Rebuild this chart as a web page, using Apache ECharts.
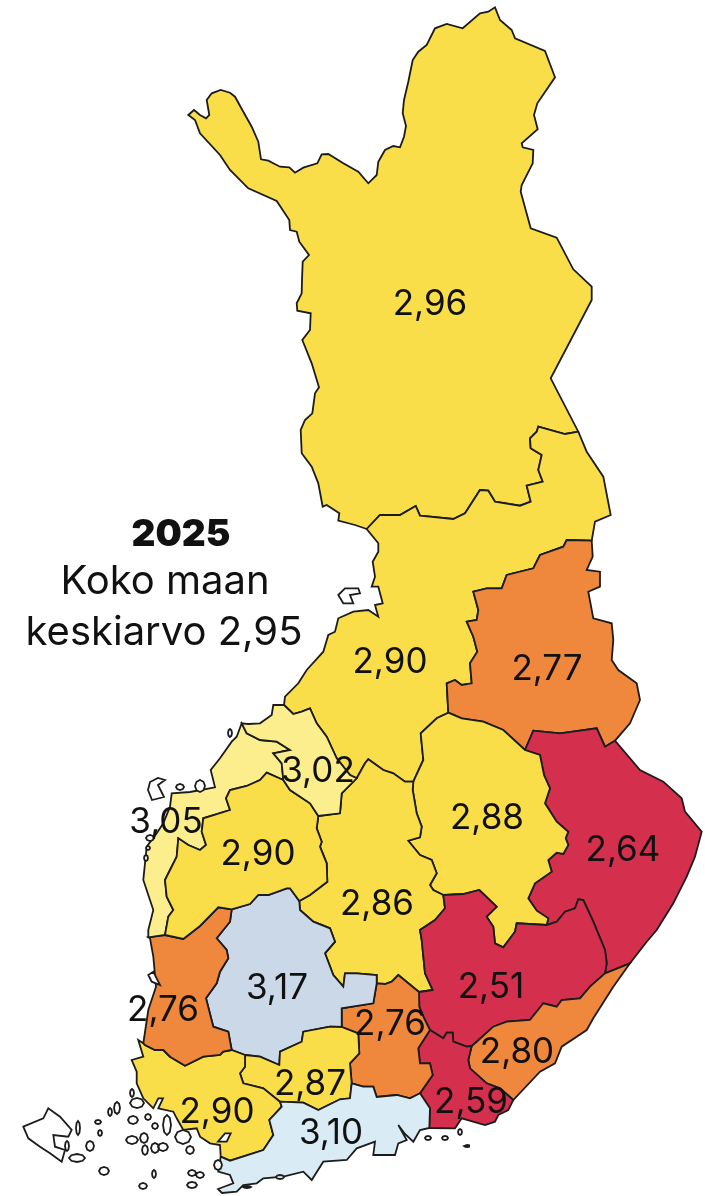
<!DOCTYPE html>
<html>
<head>
<meta charset="utf-8">
<title>Koko maan keskiarvo 2025</title>
<style>
	html,body{margin:0;padding:0;background:#fff;}
	#kartta{width:705px;height:1196px;}
</style>
<script src="https://cdn.jsdelivr.net/npm/echarts@6/dist/echarts.min.js"></script>
</head>
<body>
<div id="kartta"></div>
<script>
// maakunnat ja arvot
var regionNames = ["Lappi","Pohjois-Pohjanmaa","Kainuu","Pohjois-Karjala","Pohjois-Savo","Keski-Suomi","Etelä-Savo","Etelä-Karjala","Kymenlaakso","Päijät-Häme","Pirkanmaa","Kanta-Häme","Varsinais-Suomi","Uusimaa","Satakunta","Pohjanmaa","Etelä-Pohjanmaa","Keski-Pohjanmaa"];
var regionValues = [2.96,2.90,2.77,2.64,2.88,2.86,2.51,2.80,2.59,2.76,3.17,2.87,2.90,3.10,2.76,3.05,2.90,3.02];
var labelSpots = [[430,304],[390,662],[547,669],[623,850],[487,818],[377,904],[491,987],[517,1052],[471,1102],[390,1024],[277,988],[310,1084],[217,1112],[331,1133],[163,1010],[166,822],[258,854],[318,771]];
var colourSteps = [
	{lt:2.7,color:'#d42f4d'},
	{gte:2.7,lt:2.85,color:'#ef873c'},
	{gte:2.85,lt:3.0,color:'#f9dd49'},
	{gte:3.0,lt:3.1,color:'#fdee8d'},
	{gte:3.1,lt:3.15,color:'#d9ecf5'},
	{gte:3.15,color:'#cbd8e8'}
];

// rajat, jaetut osuudet
var lappiCoast = [[366.7,529],[355,525],[338.3,520.7],[339.3,513.3],[326.7,505],[322.7,506.7],[318.3,483.3],[311.7,466.7],[301.7,453.3],[300.7,430],[305,420],[312.3,413.3],[315,393.3],[319,387.3],[311.7,363.3],[302.3,340],[310,330],[310.7,313.3],[297.3,310.7],[296.7,303.3],[301.7,293.3],[302,280],[302.7,261.7],[309,255],[299.3,241.7],[296.7,231.7],[290,230],[289.3,220],[276.7,201],[248.3,188.3],[230,170],[220,155],[200,133.3],[195,120],[188.3,115],[194,110],[200,115],[206,118.3],[209.3,115],[206.7,100],[211.7,93.3],[220.7,90],[230,92.7],[235,96.7],[243.3,111.7],[251.7,126.7],[258.3,141.7],[261,159.3],[268.3,160.7],[280,166.7],[289.3,167.3],[295,172.7],[303.3,167.7],[317.3,163.3],[321.7,154.3],[328.3,154],[343.3,163.3],[358.3,171.7],[368.3,183.3],[376.7,175],[378.3,161.7],[385,150],[393.3,146],[400,147.3],[404,136.7],[406,126],[402.7,113.3],[404,100],[408.3,81.7],[412.7,60],[418.3,51.7],[426.7,45],[435,28.3],[446.7,24],[462.7,28.3],[480,13.3],[488.3,11.7],[495,7.3],[500,20],[511.7,30],[515,38.3],[545,51],[555,77.3],[537.3,103.3],[534,115],[537.7,129.3],[521.7,143.3],[522.7,147.3],[533.3,150],[532.7,163.3],[521.7,185],[520.7,191.7],[530.7,228.3],[556.7,237.7],[573.3,269.3],[591.7,286.7],[591.7,300],[550.7,378.3],[578.3,431.7]];
var lappi_pp = [[578.3,431.7],[565,434],[538.3,426.7],[536.7,431.7],[530,438.3],[530.7,448.3],[541.7,455],[538.3,470],[542.7,481.7],[526.7,485.7],[530.7,501.7],[520,505.7],[495,501.7],[488.3,490.7],[480,490],[465,513.3],[453.3,519],[420,515.7],[415.7,506],[400,515],[380,515],[366.7,529]];
var ppCoastE = [[578.3,431.7],[586.7,451.7],[603.3,476.7],[610.7,515],[595,521.7],[591.7,540.7]];
var pp_kainuu = [[591.7,540.7],[566.7,540],[563.3,546.7],[540,555],[533.3,568.3],[506.7,575],[501.7,588.3],[486.7,588.3],[473.3,591.7],[478.3,610],[476.7,620],[466.7,621.7],[473.3,636.7],[477.3,651.7],[470,663.3],[471.7,683.3],[461.7,685],[455,680],[446.7,683.3],[448.3,712.7]];
var kainuu_ps = [[448.3,712.7],[461.7,718.3],[483.3,721.7],[503.3,730],[525,750]];
var kainuuCoast = [[591.7,540.7],[592.7,556.7],[586.7,570],[600,571.7],[600,586.7],[588.3,591.7],[593.3,618.3],[611.7,623.3],[613.3,640],[611.7,660],[618.3,670],[636.7,683.3],[640,700],[630,723.3],[615,740.7]];
var kainuu_pk = [[615,740.7],[605,746.7],[596.7,728.3],[560,733.3],[533.3,730.7],[525,750]];
var pkCoast = [[615,740.7],[640,770],[663.3,781.7],[681.7,798.3],[685,811.7],[701.7,831.7],[695,856.7],[686.7,876.7],[673.3,903.3],[656.7,930],[646.7,941.7],[630,963.3]];
var ps_pk = [[525,750],[540,755],[544,775],[550,788.3],[545,803.3],[556.7,821.7],[568.3,831.7],[565.7,838.3],[568.3,845],[563.3,854],[556.7,852.7],[548.3,860],[551.7,871.7],[535,883.3],[528.3,898.3],[536.7,910.7],[548.3,918.3],[546.7,925]];
var es_pk = [[546.7,925],[556.7,921.7],[565,911.7],[575,908.3],[578.3,899.3],[583.3,900],[593.3,921.7],[605,950],[606.7,963.3],[605,973.3]];
var ek_top = [[605,973.3],[630,963.3]];
var ekCoast = [[630,963.3],[613.3,986.7],[593.3,1018.3],[586.7,1030],[561.7,1046.7],[555,1063.3],[540,1071.7],[513.3,1100]];
var ek_es = [[605,973.3],[590,986.7],[580,998.3],[561.7,1000],[556.7,1006.7],[543.3,1003.3],[530,1020],[506.7,1021.7],[493.3,1026.7],[476.7,1041.7],[471.7,1046]];
var ek_kym = [[471.7,1046],[468.3,1060],[470,1068.3],[486.7,1083.3],[500,1088.3],[513.3,1100]];
var kymCoast = [[513.3,1100],[508.3,1110],[498.3,1115],[495,1121.7],[485,1125],[461.7,1118.3],[455,1128.3],[429.3,1128]];
var kym_uus = [[429.3,1128],[430,1108.3],[420,1093.3]];
var kym_ph = [[420,1093.3],[432.7,1075],[430,1063.3],[420,1063.3],[418.3,1048.3],[430,1030]];
var es_kym = [[430,1030],[443.3,1038.3],[446.7,1032.7],[452.7,1032.7],[453.3,1041.7],[466.7,1046.7],[471.7,1046]];
var es_ph = [[430,1030],[423.3,1016.7],[419.3,1006.7],[419,992]];
var es_ks = [[419,992],[432.7,990],[425,973.3],[421.7,940],[420,930],[435,920],[445,908.3],[443.3,895]];
var es_ps = [[443.3,895],[463.3,894],[479.3,890],[496.7,906.7],[486.7,916.7],[493.3,926.7],[495,943.3],[503.3,947.3],[515,931.7],[516.7,923.3],[546.7,925]];
var ps_ks = [[443.3,895],[433.3,890],[430,885],[436.7,873.3],[431.7,860],[420,855],[408.3,840.7],[420,837.3],[421.7,826.7],[416.7,813.3],[412.7,790],[413.3,781.7]];
var ps_pp = [[413.3,781.7],[423.3,760],[420.7,733.3],[436.7,718.3],[448.3,712.7]];
var ks_pp = [[413.3,781.7],[405,781.7],[393.3,773.3],[383.3,770],[368.3,759.3],[365,763.3],[356.7,778.3]];
var pp_kp = [[356.7,778.3],[350,775],[336.7,758.3],[326.7,736.7],[316.7,723.3],[310,708.3],[301.7,711.7],[293.3,714],[284,705]];
var ppCoast = [[284,705],[285,696.7],[298.3,683.3],[306.7,670],[323.3,651.7],[328.3,635],[335,631.7],[338.3,618.3],[353.3,611.7],[368.3,610],[378.3,616.7],[375,605],[382.7,603.3],[378.3,586.7],[371.7,586.7],[375,576.7],[372.7,561.7],[378.3,551.7],[378.3,543.3],[366.7,529]];
var kpCoast = [[284,705],[273.3,705],[271.7,715],[260,723.3],[248.3,724],[241.7,723.3]];
var kp_poh = [[241.7,723.3],[246.7,733.3],[260,740],[276.7,741.7],[290,750],[273.3,753.3],[281.7,763.3],[283.3,780]];
var kp_ep = [[283.3,780],[290,790],[310,803.3],[318.3,816]];
var kp_ks = [[318.3,816],[340,813.3],[341.7,793.3],[356.7,778.3]];
var pohCoast = [[241.7,723.3],[236.7,736.7],[231.7,741.7],[220,758.3],[210.7,770],[215,787.3],[190,792],[171.7,793.3],[170,806.7],[163.3,823.3],[156.7,833.3],[146.7,846.7],[143.3,880],[153.3,910],[148.3,930],[148.3,937.3]];
var poh_sat = [[148.3,937.3],[165,935]];
var poh_ep = [[165,935],[168.3,916.7],[173.3,910],[166.7,896.7],[165,880],[176.7,856.7],[178.3,838.3],[188.3,845],[200,850],[206,845],[201.7,831.7],[203.3,818.3],[230,810],[226,798.3],[230,790],[246.7,786],[260,780],[266.7,772.7],[283.3,780]];
var ep_sat = [[165,935],[183.3,939],[200,926],[218.3,907.3],[231.7,909.3]];
var ep_pirk = [[231.7,909.3],[250,904],[258.3,895],[268.3,895],[286.7,888.3],[290,888.3],[299.3,901]];
var ep_ks = [[299.3,901],[310,895],[327.3,881.7],[326.7,863.3],[320,846.7],[321.7,841.7],[316.7,828.3],[318.3,816]];
var ks_pirk = [[299.3,901],[300,910],[313.3,921.7],[330,928.3],[335,941.7],[325,953.3],[333.3,975],[343.3,986.7],[345,973.3],[356.7,973.3],[376.7,975],[376.7,983.3]];
var ks_ph = [[376.7,983.3],[385,984],[391.7,981.7],[398.3,975],[408,983],[419,992]];
var ph_pirk = [[376.7,983.3],[373.3,1003.3],[341.7,1008.3],[341.7,1027]];
var kh_pirk = [[341.7,1027],[330,1026.7],[303.3,1031.7],[301.7,1041.7],[280,1051.7],[279.3,1065],[260,1056.7],[245,1055]];
var vs_pirk = [[245,1055],[231.7,1050]];
var sat_pirk = [[231.7,1050],[228.3,1031.7],[213.3,1026.7],[206,998.3],[216.7,983.3],[220,971.7],[228.3,958.3],[226.7,950],[216.7,938.3],[230,921.7],[231.7,909.3]];
var sat_vs = [[231.7,1050],[223.3,1051.7],[220,1055],[203.3,1056.7],[185,1065.7],[170,1056.7],[163.3,1050],[155,1050],[145,1045],[143.3,1043.3]];
var satCoast = [[143.3,1043.3],[148.3,1010],[156,986.7],[153.3,956.7],[150,938.3],[148.3,937.3]];
var vsCoast = [[143.3,1043.3],[138.3,1040],[143.3,1056.7],[131.7,1060],[136.7,1071.7],[136.7,1083.3],[143.3,1098.3],[153.3,1108.3],[158.3,1098.3],[163,1098.3],[158.3,1108.3],[173.3,1111.7],[176.7,1118.3],[183.3,1130],[196.7,1128.3],[200,1136.7],[210,1143.3],[220,1145],[220.7,1156.7]];
var vs_uus = [[220.7,1156.7],[230,1160.7],[263.3,1150],[273.3,1135],[269.3,1120],[281.7,1106.7],[280,1101.7]];
var vs_kh = [[280,1101.7],[263.3,1088.3],[243.3,1083.3],[240,1073.3],[245,1066.7],[245,1055]];
var kh_uus = [[280,1101.7],[303.3,1102.7],[318.3,1110],[340,1099.3],[350,1098.3],[351.7,1083.3]];
var kh_ph = [[351.7,1083.3],[350,1063.3],[359.3,1053.3],[358.3,1033.3],[341.7,1027]];
var ph_uus = [[351.7,1083.3],[363.3,1086.7],[373.3,1086.7],[376.7,1097],[396.7,1095],[410,1098.3],[420,1093.3]];
var uusCoast = [[429.3,1128],[420,1130],[413.3,1141.7],[405,1134],[398.3,1125],[406.7,1140],[398.3,1143.3],[395,1155],[373.3,1155],[375,1141.7],[356.7,1148.3],[346.7,1160],[323.3,1161.7],[311.7,1180],[303.3,1171.7],[283.3,1176.7],[263.3,1178.3],[256.7,1183.3],[243.3,1185],[236.7,1191.7],[222,1193],[218,1189],[233.3,1183.3],[230,1175],[218.3,1171.7],[220.7,1156.7]];

// saaret
var alandRing = [[23.3,1126.7],[43.3,1118.3],[48.3,1108.3],[60,1116.7],[71.7,1130],[68.3,1136.7],[53.3,1135],[55,1146.7],[65,1150],[61.7,1161.7],[50,1153.3],[40,1146.7],[28.3,1138.3]];
var otherRings = [
	[[338.3,595],[345,588.3],[358.3,588.3],[360,593.3],[350,595],[353.3,603.3],[343.3,603.3]],
	[[148.3,975],[153.3,971.7],[160,985],[151.7,981.7]],
	[[218,1141.7],[225,1133.3],[230.7,1133.3],[226.7,1141.7]],
	[[148,790],[150,782],[158,778],[165,780],[158,785],[164,797],[152,800]]
];
var smallIsles = [[77,1158,8,4],[104,1171,5,4],[154,1174,2,4],[143,1186,4,3],[192,1185,5,3],[132,1140,6,4],[144,1138,4,5],[145,1150,3,5],[155,1148,4,5],[163,1147,5,4],[155,1126,3,3],[133,1120,5,4],[148,1117,3,3],[132,1093,2,4],[137,1103,7,5],[117,1108,3,6],[110,1112,2,4],[98,1122,3,2],[100,1133,2,3],[90,1146,4,5],[67,1146,2,5],[78,1128,2,7],[167,1125,4,10],[183,1137,8,7],[190,1150,4,4],[192,1173,4,3],[200,1175,4,3],[218,1165,4,5],[180,787,4,3],[200,786,5,6],[230,733,2,4],[150,838,4,3],[148,848,2,2],[146,858,2,3],[280,1177,4,2],[247,1187,4,1],[428,1138,3,2],[445,1138,3,2],[460,1132,2,3],[467,1146,3,1]];

function rev(a){ return a.slice().reverse(); }
function isle(s){
	var cx=s[0],cy=s[1],rx=s[2],ry=s[3];
	return [[cx-rx,cy],[cx-rx*0.7,cy-ry*0.7],[cx,cy-ry],[cx+rx*0.7,cy-ry*0.7],[cx+rx,cy],[cx+rx*0.7,cy+ry*0.7],[cx,cy+ry],[cx-rx*0.7,cy+ry*0.7]];
}

var regionRings = [
	[lappiCoast,lappi_pp],
	[rev(lappi_pp),ppCoastE,pp_kainuu,rev(ps_pp),ks_pp,pp_kp,ppCoast],
	[kainuuCoast,kainuu_pk,rev(kainuu_ps),rev(pp_kainuu)],
	[rev(kainuu_pk),pkCoast,rev(ek_top),rev(es_pk),rev(ps_pk)],
	[kainuu_ps,ps_pk,rev(es_ps),ps_ks,ps_pp],
	[rev(ks_pp),rev(ps_ks),rev(es_ks),rev(ks_ph),rev(ks_pirk),ep_ks,kp_ks],
	[es_ks,es_ps,es_pk,ek_es,rev(es_kym),es_ph],
	[ek_top,ekCoast,rev(ek_kym),rev(ek_es)],
	[es_kym,ek_kym,kymCoast,kym_uus,kym_ph],
	[ks_ph,rev(es_ph),rev(kym_ph),rev(ph_uus),kh_ph,rev(ph_pirk)],
	[ks_pirk,ph_pirk,kh_pirk,vs_pirk,sat_pirk,ep_pirk],
	[rev(kh_pirk),rev(kh_ph),rev(kh_uus),vs_kh],
	[sat_vs,vsCoast,vs_uus,vs_kh,vs_pirk],
	[kh_uus,ph_uus,rev(kym_uus),uusCoast,vs_uus],
	[ep_sat,rev(sat_pirk),sat_vs,satCoast,poh_sat],
	[pohCoast,poh_sat,poh_ep,rev(kp_poh)],
	[rev(poh_ep),ep_sat,ep_pirk,ep_ks,rev(kp_ep)],
	[rev(kpCoast),rev(pp_kp),rev(kp_ks),rev(kp_ep),rev(kp_poh)]
];

var features = regionNames.map(function(name,i){
	var ring = [];
	regionRings[i].forEach(function(part){ ring = ring.concat(part); });
	return {type:'Feature',properties:{name:name,cp:labelSpots[i]},geometry:{type:'Polygon',coordinates:[ring]}};
});
//saaret viimeisenä, jotta ne piirtyvät päälle
var isles = [alandRing].concat(otherRings,smallIsles.map(isle));
features.push({type:'Feature',properties:{name:'Saaret',cp:[60,1130]},geometry:{type:'MultiPolygon',coordinates:isles.map(function(r){return [r];})}});

echarts.registerMap('suomi',{type:'FeatureCollection',features:features});

var myChart = echarts.init(document.getElementById('kartta'),null,{renderer:'canvas'});
var titleFont = 'Inter, "Noto Sans", sans-serif';
var option = {
	animation:false,
	backgroundColor:'#fff',
	title:[
		{text:'2025',left:176,top:511,textAlign:'center',textStyle:{fontFamily:titleFont,fontSize:37,fontWeight:900,color:'#111'}},
		{text:'Koko maan',left:160,top:557,textAlign:'center',textStyle:{fontFamily:titleFont,fontSize:40,fontWeight:400,color:'#111'}},
		{text:'keskiarvo 2,95',left:159,top:608,textAlign:'center',textStyle:{fontFamily:titleFont,fontSize:40,fontWeight:400,color:'#111'}}
	],
	visualMap:{show:false,type:'piecewise',seriesIndex:0,pieces:colourSteps},
	series:[{
		type:'map',
		map:'suomi',
		projection:{project:function(p){return p;},unproject:function(p){return p;}},
		boundingCoords:[[0,0],[705,1196]],
		layoutCenter:['50%','50%'],
		layoutSize:1196,
		roam:false,
		silent:true,
		selectedMode:false,
		itemStyle:{areaColor:'#fff',borderColor:'#1c1c1c',borderWidth:1.8},
		emphasis:{disabled:true},
		label:{
			show:true,
			fontFamily:titleFont,
			fontSize:35,
			color:'#111',
			formatter:function(p){
				return isNaN(p.value) ? '' : p.value.toFixed(2).replace('.',',');
			}
		},
		data:regionNames.map(function(name,i){ return {name:name,value:regionValues[i]}; })
	}]
};
myChart.setOption(option);
</script>
</body>
</html>
